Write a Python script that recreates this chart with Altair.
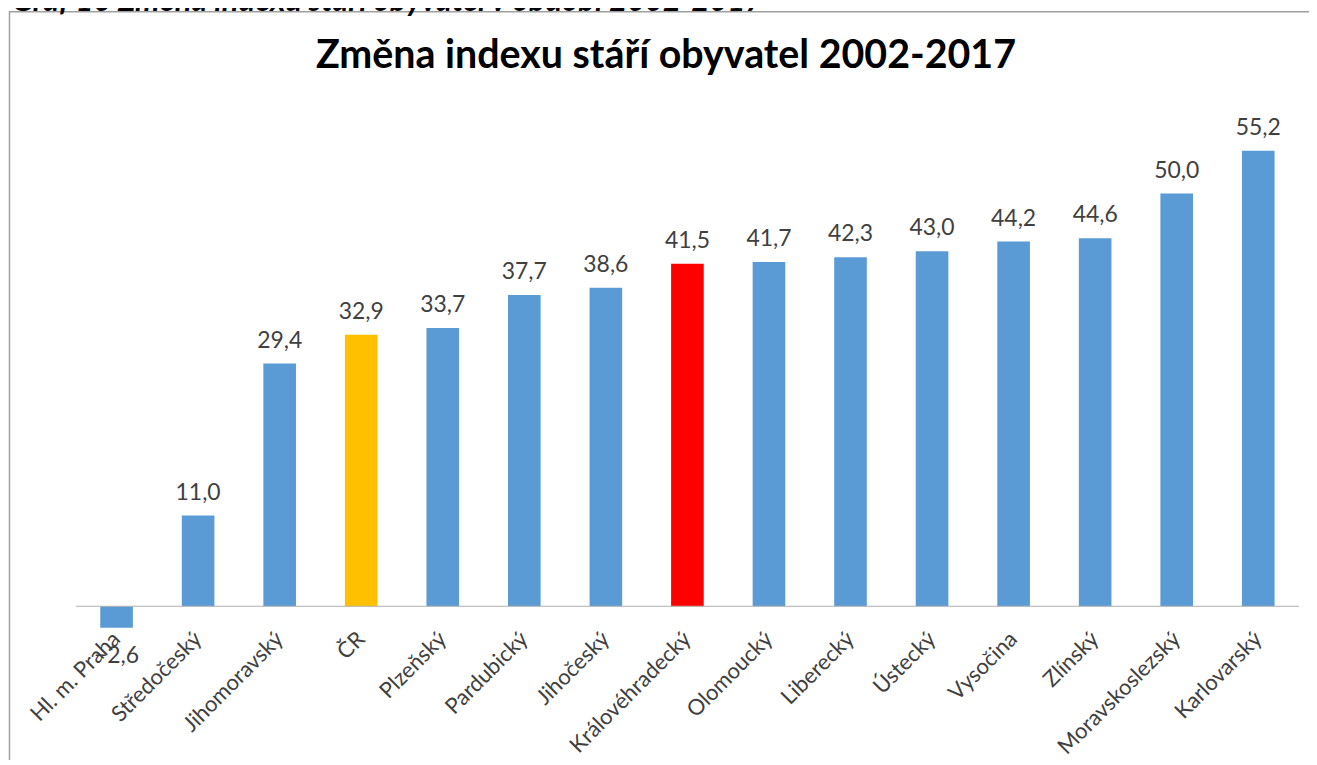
import altair as alt
import pandas as pd

regions = ["Hl. m. Praha", "Středočeský", "Jihomoravský", "ČR", "Plzeňský",
           "Pardubický", "Jihočeský", "Královéhradecký", "Olomoucký", "Liberecký",
           "Ústecký", "Vysočina", "Zlínský", "Moravskoslezský", "Karlovarský"]
values = [-2.6, 11.0, 29.4, 32.9, 33.7, 37.7, 38.6, 41.5, 41.7, 42.3, 43.0, 44.2, 44.6, 50.0, 55.2]
title_text = "Změna indexu stáří obyvatel 2002-2017"
caption_text = "Graf 10 Změna indexu stáří obyvatel v období 2002-2017"

df = pd.DataFrame({"region": regions, "value": values})

FONT = "Lato"
W, H = 1227, 521.6
PAD_L, PAD_T = 68, 102.2

xs = alt.X("region:N", sort=None, title=None,
           scale=alt.Scale(paddingInner=0.6, paddingOuter=0.3),
           axis=alt.Axis(labelAngle=-45, labelAlign="right", labelBaseline="middle",
                         labelFontSize=22, labelFont=FONT, labelColor="#404040",
                         labelPadding=4, domain=False, ticks=False, grid=False,
                         labelOverlap=False))
ys = alt.Y("value:Q", title=None, scale=alt.Scale(domain=[-3, 60], nice=False, zero=False),
           axis=None)

base = alt.Chart(df).transform_calculate(
    grp="datum.region == 'ČR' ? 'cr' : (datum.region == 'Královéhradecký' ? 'khk' : 'kraj')",
    label="replace(format(datum.value, '.1f'), '.', ',')"
)

bars = base.mark_bar().encode(
    x=xs, y=ys, y2=alt.datum(0),
    color=alt.Color("grp:N", legend=None,
                    scale=alt.Scale(domain=["kraj", "cr", "khk"],
                                    range=["#5b9bd5", "#ffc000", "#ff0000"])),
)

rule = alt.Chart(pd.DataFrame({"z": [0]})).mark_rule(color="#b0b0b0", strokeWidth=1).encode(
    y=alt.Y("z:Q", scale=alt.Scale(domain=[-3, 60], nice=False, zero=False), axis=None),
    x=alt.value(0), x2=alt.value(W))

pos_labels = base.transform_filter("datum.value >= 0").mark_text(
    baseline="alphabetic", dy=-16, fontSize=23, font=FONT, color="#404040"
).encode(x=xs, y=ys, text="label:N")

neg_labels = base.transform_filter("datum.value < 0").mark_text(
    baseline="alphabetic", dy=35, fontSize=23, font=FONT, color="#404040"
).encode(x=xs, y=ys, text="label:N")

frame = alt.Chart(pd.DataFrame({"a": [0]})).mark_rect(
    fill=None, fillOpacity=0, stroke="#a0a0a0", strokeWidth=1.5
).encode(x=alt.value(-66.5), x2=alt.value(1400), y=alt.value(-99.7), y2=alt.value(800))

title = alt.Chart(pd.DataFrame({"t": [title_text]})).mark_text(
    fontSize=39.5, font=FONT, fontWeight="bold", color="#000000",
    align="center", baseline="alphabetic"
).encode(x=alt.value(592), y=alt.value(-43.2), text="t:N")

caption = alt.Chart(pd.DataFrame({"t": [caption_text]})).mark_text(
    fontSize=31, font=FONT, fontWeight="bold", fontStyle="italic", color="#000000",
    align="left", baseline="alphabetic"
).encode(x=alt.value(4 - PAD_L), y=alt.value(2 - PAD_T), text="t:N")

chart = alt.layer(frame, caption, title, bars, rule, pos_labels, neg_labels).properties(
    width=W, height=H,
    autosize=alt.AutoSizeParams(type="none"),
    padding={"left": PAD_L, "top": PAD_T, "right": 1305 - PAD_L - W, "bottom": 752 - PAD_T - H},
    background="white",
).configure_view(stroke=None)

chart.save("out.html", embed_options={"renderer": "svg", "actions": False})
